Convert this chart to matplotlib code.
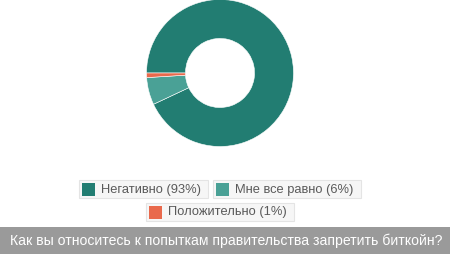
import matplotlib
matplotlib.use("Agg")
import matplotlib.pyplot as plt
from matplotlib.patches import Rectangle

# данные
labels = ["Негативно", "Мне все равно", "Положительно"]
values = [93, 6, 1]
colors = ["#227d72", "#4aa196", "#e9694c"]
title = "Как вы относитесь к попыткам правительства запретить биткойн?"

W, H = 450, 254
fig = plt.figure(figsize=(W / 100, H / 100), dpi=100)
fig.patch.set_facecolor("white")

# кольцевая диаграмма
cx, cy, r = 220, 73, 73.5
ax = fig.add_axes([(cx - r) / W, (H - cy - r) / H, 2 * r / W, 2 * r / H])
ax.pie(values, colors=colors, startangle=180, counterclock=False, radius=1,
       wedgeprops=dict(width=0.53, edgecolor="white", linewidth=0.4))
ax.set_xlim(-1, 1)
ax.set_ylim(-1, 1)
ax.set_aspect("equal")
ax.axis("off")


def px_rect(x, y, w, h, **kw):
    fig.patches.append(Rectangle((x / W, 1 - (y + h) / H), w / W, h / H,
                                 transform=fig.transFigure, **kw))


# легенда
boxes = [(79, 180, 129), (213, 180, 148), (146, 203, 148)]
for (bx, by, bw), lab, v, c in zip(boxes, labels, values, colors):
    px_rect(bx, by, bw, 18, facecolor="#f6f6f6", edgecolor="#e4e4e4", linewidth=0.8)
    px_rect(bx + 3, by + 2.5, 13, 13, facecolor=c, edgecolor="none")
    fig.text((bx + 22) / W, 1 - (by + 9.5) / H, f"{lab} ({v}%)",
             fontsize=9.3, family="Liberation Sans", color="#5a5a5a",
             va="center", ha="left")

# заголовок
px_rect(0, 227, W, 27, facecolor="#9a9a9a", edgecolor="none")
fig.text(10 / W, 1 - 240.5 / H, title, fontsize=10.12, family="Liberation Sans",
         color="white", va="center", ha="left")

fig.savefig("out.png", dpi=100)
